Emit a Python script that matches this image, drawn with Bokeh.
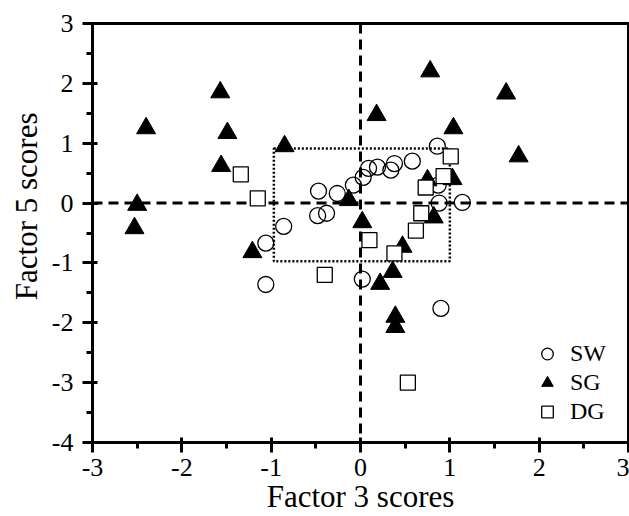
from bokeh.plotting import figure
from bokeh.models import (Range1d, Span, BoxAnnotation, Legend, LegendItem,
                          SingleIntervalTicker, PrintfTickFormatter, Title)
from bokeh.embed import file_html
from bokeh.resources import INLINE

# ---- data ----
sw_x = [0.86, 0.58, 0.38, 0.34, 0.19, 0.09, 0.03, -0.08, -0.26, -0.47,
        -0.48, -0.38, -0.86, -1.06, -1.06, 0.02, 0.90, 0.87, 0.88, 1.14]
sw_y = [0.95, 0.70, 0.66, 0.55, 0.60, 0.58, 0.43, 0.30, 0.16, 0.20,
        -0.21, -0.17, -0.39, -0.67, -1.36, -1.27, -1.76, 0.30, 0.00, 0.01]

sg_x = [-2.40, -2.50, -2.53, -1.57, -1.49, -1.56, -1.21, -0.85, 0.18, 0.78,
        1.63, 1.04, 1.77, -0.13, 0.02, 0.75, 1.03, 0.82, 0.47, 0.36,
        0.22, 0.39, 0.39]
sg_y = [1.25, -0.03, -0.42, 1.85, 1.17, 0.62, -0.82, 0.95, 1.47, 2.20,
        1.83, 1.25, 0.78, 0.05, -0.32, 0.38, 0.40, -0.24, -0.73, -1.15,
        -1.35, -1.90, -2.07]

dg_x = [-1.34, -1.15, -0.40, 0.10, 0.38, 0.53, 0.62, 0.68, 0.73, 0.93, 1.01]
dg_y = [0.48, 0.08, -1.20, -0.62, -0.84, -3.00, -0.46, -0.17, 0.26, 0.45, 0.78]

series_names = ["SW", "SG", "DG"]
x_label = "Factor 3 scores"
y_label = "Factor 5 scores"
x_range = [-3, 3]
y_range = [-4, 3]
box_x = [-0.97, 1.0]
box_y = [-0.97, 0.91]

FONT = "Liberation Serif"

p = figure(width=629, height=516, output_backend="svg", toolbar_location=None,
           x_range=Range1d(*x_range), y_range=Range1d(*y_range),
           min_border_left=92, min_border_right=1, min_border_top=23,
           min_border_bottom=73)

p.xgrid.visible = False
p.ygrid.visible = False
p.outline_line_color = "black"
p.outline_line_width = 3
p.background_fill_color = "white"
p.border_fill_color = "white"

for ax in (p.xaxis[0], p.yaxis[0]):
    ax.ticker = SingleIntervalTicker(interval=1, num_minor_ticks=2)
    ax.formatter = PrintfTickFormatter(format="%d")
    ax.axis_line_width = 3
    ax.major_tick_line_width = 3
    ax.minor_tick_line_width = 3
    ax.major_tick_in = 5
    ax.major_tick_out = 10
    ax.minor_tick_in = 0
    ax.minor_tick_out = 6
    ax.major_label_text_font = FONT
    ax.major_label_text_font_size = "26px"
    ax.major_label_text_color = "black"
    ax.axis_label_text_font = FONT
    ax.axis_label_text_font_size = "31px"
    ax.axis_label_text_font_style = "normal"
    ax.axis_label_text_color = "black"

p.xaxis.axis_label = x_label
p.xaxis.major_label_standoff = 6
p.yaxis.major_label_standoff = 9
p.xaxis.axis_label_standoff = 0

# y-axis title as a side-panel title, shifted upward like the reference
p.add_layout(Title(text=y_label, align="right", offset=89, standoff=10,
                   text_font=FONT, text_font_size="31px",
                   text_font_style="normal", text_color="black"), "left")

# zero lines
p.add_layout(Span(location=0, dimension="height", line_color="black",
                  line_width=3, line_dash="10 6", level="underlay"))
p.add_layout(Span(location=0, dimension="width", line_color="black",
                  line_width=3, line_dash="10 6", level="underlay"))

# dotted box
p.add_layout(BoxAnnotation(left=box_x[0], right=box_x[1], bottom=box_y[0], top=box_y[1],
                           fill_alpha=0, line_color="black", line_alpha=1,
                           line_width=2.5, line_dash="2 2", level="underlay"))

r_sw = p.scatter(sw_x, sw_y, marker="circle", size=16, fill_color=None,
                 line_color="black", line_width=1.3)
r_sg = p.scatter(sg_x, sg_y, marker="triangle", size=19, fill_color="black",
                 line_color="black", line_width=1)
r_dg = p.scatter(dg_x, dg_y, marker="square", size=15, fill_color="white",
                 line_color="black", line_width=1.3)

legend = Legend(items=[LegendItem(label=series_names[0], renderers=[r_sw]),
                       LegendItem(label=series_names[1], renderers=[r_sg]),
                       LegendItem(label=series_names[2], renderers=[r_dg])],
                location=(439, 16))
legend.padding = 0
legend.margin = 0
legend.spacing = 0
legend.border_line_color = None
legend.background_fill_alpha = 0
legend.glyph_width = 32
legend.glyph_height = 29
legend.label_height = 29
legend.label_standoff = 7
legend.label_text_font = FONT
legend.label_text_font_size = "24px"
legend.label_text_color = "black"
p.add_layout(legend)

open("out.html", "w").write(file_html(p, INLINE))
